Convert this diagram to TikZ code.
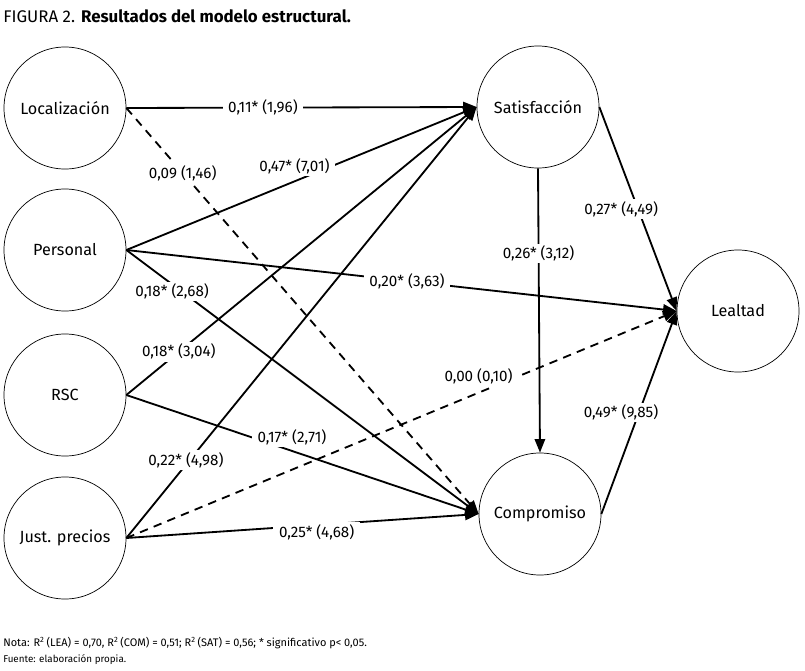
\documentclass[tikz,border=0pt]{standalone}
\usepackage{fontspec}
\setmainfont{Fira Sans}
\usetikzlibrary{arrows.meta}

\begin{document}
\begin{tikzpicture}[x=0.025cm,y=-0.025cm,
		lat/.style={circle,draw,line width=.5pt,minimum size=3.05cm,inner sep=0pt,font=\fontsize{11.5}{13}\selectfont},
		arr/.style={line width=1.3pt,-{Triangle[length=3.4mm,width=2.6mm]}},
		nsig/.style={arr,dash pattern=on 6pt off 4.5pt},
		coef/.style={fill=white,inner xsep=4pt,inner ysep=1.5pt,font=\fontsize{10.8}{12}\selectfont}]
			\useasboundingbox (0,0) rectangle (805,671);
			
			\node[anchor=west,inner sep=0pt,font=\fontsize{12}{14}\selectfont] (titulo) at (3,16) {FIGURA 2. \textbf{Resultados del modelo estructural.}};
			
			\node[lat] (loc) at (65,108) {Localización};
			\node[lat] (per) at (65,250) {Personal};
			\node[lat] (rsc) at (65,395) {RSC};
			\node[lat] (jus) at (65,538) {Just. precios};
			\node[lat] (sat) at (538,107) {Satisfacción};
			\node[lat] (lea) at (738,311) {Lealtad};
			\node[lat] (com) at (540,514) {Compromiso};
			
			\draw[arr] (loc.east) --node[coef,pos=.39]{0,11* (1,96)} (sat.west);
			\draw[nsig] (loc.east) --node[coef,pos=.16]{0,09 (1,46)} (com.west);
			\draw[arr] (per.east) --node[coef,pos=.48,yshift=.38cm]{0,47* (7,01)} (sat.west);
			\draw[arr] (per.east) --node[coef,pos=.51]{0,20* (3,63)} (lea.west);
			\draw[arr] (per.east) --node[coef,pos=.13,yshift=-.18cm]{0,18* (2,68)} (com.west);
			\draw[arr] (rsc.east) --node[coef,pos=.15]{0,18* (3,04)} (sat.west);
			\draw[arr] (rsc.east) --node[coef,pos=.47,yshift=.35cm]{0,17* (2,71)} (com.west);
			\draw[arr] (jus.east) --node[coef,pos=.17,yshift=.12cm]{0,22* (4,98)} (sat.west);
			\draw[nsig] (jus.east) --node[coef,pos=.64,yshift=.4cm]{0,00 (0,10)} (lea.west);
			\draw[arr] (jus.east) --node[coef,pos=.54,yshift=-.18cm]{0,25* (4,68)} (com.west);
			
			\draw[arr] (sat.east) --node[coef,pos=.5,xshift=-.42cm]{0,27* (4,49)} (lea.west);
			\draw[arr] (sat.south) --node[coef,pos=.3]{0,26* (3,12)} (com.north);
			\draw[arr] (com.east) --node[coef,pos=.5,xshift=-.45cm]{0,49* (9,85)} (lea.west);
			
			\node[anchor=west,inner sep=0pt,font=\fontsize{7.8}{9}\selectfont] (nota) at (3,643) {Nota: R\textsuperscript{2}\,(LEA) = 0,70, R\textsuperscript{2}\,(COM) = 0,51; R\textsuperscript{2}\,(SAT) = 0,56; * significativo p< 0,05.};
			\node[anchor=west,inner sep=0pt,font=\fontsize{7}{8}\selectfont] (fuente) at (3,660) {Fuente: elaboración propia.};
		\end{tikzpicture}
\end{document}
